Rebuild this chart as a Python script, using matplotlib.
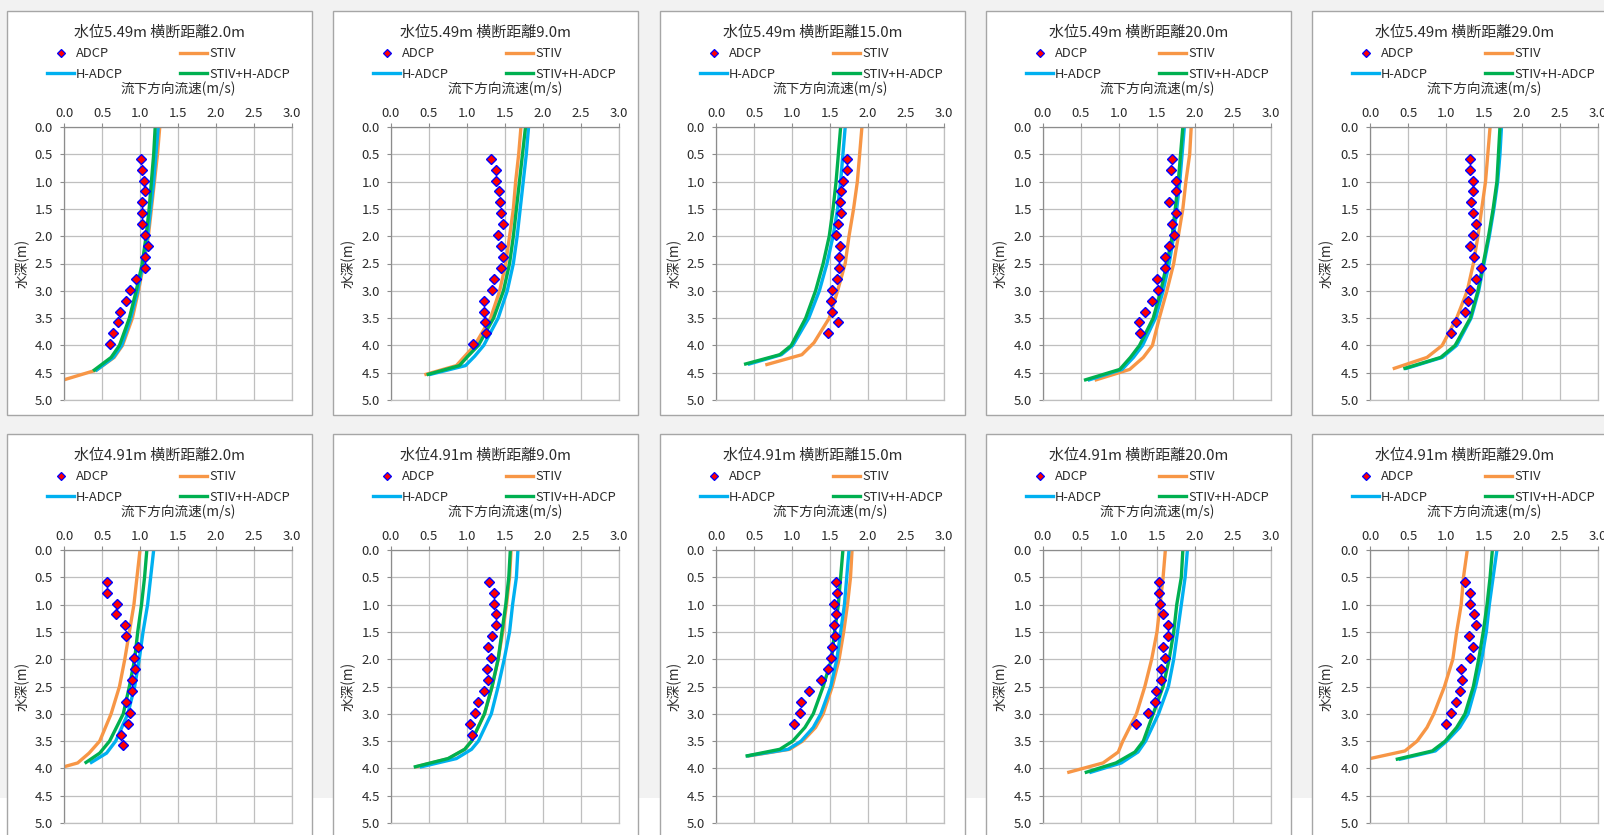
import matplotlib.pyplot as plt
from matplotlib.lines import Line2D
from matplotlib.patches import Rectangle
from matplotlib.ticker import FormatStrFormatter

plt.rcParams['font.family'] = ['Noto Sans CJK JP', 'DejaVu Sans']

# panel titles
levels = ['5.49', '5.49', '5.49', '5.49', '5.49', '4.91', '4.91', '4.91', '4.91', '4.91']
dists = ['2.0', '9.0', '15.0', '20.0', '29.0', '2.0', '9.0', '15.0', '20.0', '29.0']

# ADCP measured points (depth m, velocity m/s)
adcp_depth = [0.58, 0.78, 0.98, 1.18, 1.38, 1.58, 1.78, 1.98, 2.18, 2.38,
              2.58, 2.78, 2.98, 3.18, 3.38, 3.58, 3.78, 3.98]
adcp_vel = [
    [1.01, 1.02, 1.05, 1.06, 1.03, 1.02, 1.02, 1.06, 1.10, 1.06, 1.06, 0.95, 0.87, 0.82, 0.74, 0.71, 0.65, 0.60],
    [1.31, 1.38, 1.38, 1.42, 1.44, 1.45, 1.47, 1.41, 1.45, 1.47, 1.45, 1.35, 1.33, 1.22, 1.22, 1.24, 1.25, 1.08],
    [1.73, 1.73, 1.67, 1.64, 1.63, 1.65, 1.61, 1.58, 1.63, 1.62, 1.62, 1.59, 1.52, 1.51, 1.52, 1.60, 1.48],
    [1.70, 1.68, 1.75, 1.75, 1.66, 1.75, 1.70, 1.72, 1.66, 1.60, 1.61, 1.50, 1.51, 1.44, 1.34, 1.26, 1.27],
    [1.32, 1.32, 1.35, 1.35, 1.33, 1.35, 1.39, 1.35, 1.32, 1.37, 1.46, 1.40, 1.32, 1.29, 1.25, 1.13, 1.06],
    [0.56, 0.57, 0.70, 0.69, 0.80, 0.82, 0.98, 0.92, 0.94, 0.89, 0.89, 0.82, 0.87, 0.84, 0.75, 0.77],
    [1.29, 1.35, 1.35, 1.38, 1.38, 1.33, 1.27, 1.31, 1.26, 1.27, 1.22, 1.15, 1.10, 1.04, 1.06],
    [1.58, 1.59, 1.55, 1.58, 1.55, 1.56, 1.53, 1.51, 1.47, 1.38, 1.22, 1.12, 1.11, 1.02],
    [1.52, 1.53, 1.54, 1.58, 1.64, 1.64, 1.58, 1.61, 1.55, 1.55, 1.49, 1.47, 1.38, 1.23],
    [1.25, 1.31, 1.32, 1.37, 1.40, 1.30, 1.35, 1.31, 1.20, 1.21, 1.18, 1.13, 1.07, 1.00],
]

# STIV profiles
stiv_depth = [
    [0, 0.5, 1.0, 1.5, 2.0, 2.5, 3.0, 3.5, 4.0, 4.22, 4.45, 4.63],
    [0, 0.5, 1.0, 1.5, 2.0, 2.5, 3.0, 3.5, 4.0, 4.2, 4.37, 4.53],
    [0, 0.5, 1.0, 1.5, 2.0, 2.5, 3.0, 3.5, 3.95, 4.17, 4.35],
    [0, 0.5, 1.0, 1.5, 2.0, 2.5, 3.0, 3.5, 4.0, 4.22, 4.44, 4.63],
    [0, 0.5, 1.0, 1.5, 2.0, 2.5, 3.0, 3.5, 4.0, 4.22, 4.42],
    [0, 0.5, 1.0, 1.5, 2.0, 2.5, 3.0, 3.5, 3.72, 3.9, 3.97],
    [0, 0.5, 1.0, 1.5, 2.0, 2.5, 3.0, 3.5, 3.65, 3.82, 3.97],
    [0, 0.5, 1.0, 1.5, 2.0, 2.5, 3.0, 3.25, 3.5, 3.65, 3.77],
    [0, 0.5, 1.0, 1.5, 2.0, 2.5, 3.0, 3.5, 3.7, 3.9, 4.07],
    [0, 0.5, 1.0, 1.5, 2.0, 2.5, 3.0, 3.25, 3.5, 3.68, 3.82],
]
stiv_vel = [
    [1.26, 1.23, 1.19, 1.15, 1.11, 1.05, 0.98, 0.90, 0.77, 0.66, 0.43, 0.0],
    [1.71, 1.68, 1.64, 1.61, 1.56, 1.51, 1.43, 1.31, 1.10, 0.97, 0.86, 0.46],
    [1.92, 1.89, 1.86, 1.81, 1.75, 1.70, 1.60, 1.49, 1.29, 1.13, 0.67],
    [1.95, 1.93, 1.88, 1.84, 1.78, 1.72, 1.63, 1.53, 1.44, 1.32, 1.14, 0.70],
    [1.58, 1.55, 1.52, 1.47, 1.42, 1.36, 1.28, 1.14, 0.95, 0.75, 0.32],
    [1.00, 0.96, 0.92, 0.86, 0.80, 0.73, 0.62, 0.47, 0.33, 0.18, 0.0],
    [1.58, 1.56, 1.52, 1.47, 1.41, 1.33, 1.23, 1.06, 0.97, 0.76, 0.33],
    [1.79, 1.77, 1.73, 1.68, 1.62, 1.53, 1.41, 1.31, 1.14, 0.97, 0.44],
    [1.61, 1.58, 1.54, 1.50, 1.43, 1.34, 1.23, 1.05, 0.99, 0.79, 0.34],
    [1.28, 1.23, 1.20, 1.14, 1.09, 0.98, 0.84, 0.75, 0.62, 0.46, 0.0],
]

# H-ADCP and STIV+H-ADCP profiles share depths
hadcp_depth = [
    [0, 0.5, 1.0, 1.5, 2.0, 2.5, 3.0, 3.5, 4.0, 4.22, 4.45],
    [0, 0.5, 1.0, 1.5, 2.0, 2.5, 3.0, 3.5, 4.0, 4.2, 4.37, 4.53],
    [0, 0.5, 1.0, 1.5, 2.0, 2.5, 3.0, 3.5, 4.0, 4.17, 4.34],
    [0, 0.5, 1.0, 1.5, 2.0, 2.5, 3.0, 3.5, 4.0, 4.22, 4.44, 4.63],
    [0, 0.5, 1.0, 1.5, 2.0, 2.5, 3.0, 3.5, 4.0, 4.22, 4.42],
    [0, 0.5, 1.0, 1.5, 2.0, 2.5, 3.0, 3.5, 3.72, 3.89],
    [0, 0.5, 1.0, 1.5, 2.0, 2.5, 3.0, 3.5, 3.65, 3.82, 3.97],
    [0, 0.5, 1.0, 1.5, 2.0, 2.5, 3.0, 3.25, 3.5, 3.65, 3.77],
    [0, 0.5, 1.0, 1.5, 2.0, 2.5, 3.0, 3.5, 3.7, 3.9, 4.07],
    [0, 0.5, 1.0, 1.5, 2.0, 2.5, 3.0, 3.25, 3.5, 3.68, 3.83],
]
hadcp_vel = [
    [1.24, 1.21, 1.18, 1.14, 1.10, 1.04, 0.97, 0.88, 0.76, 0.65, 0.43],
    [1.81, 1.78, 1.74, 1.70, 1.66, 1.61, 1.53, 1.41, 1.22, 1.10, 0.98, 0.52],
    [1.70, 1.67, 1.64, 1.60, 1.54, 1.46, 1.36, 1.22, 1.01, 0.86, 0.44],
    [1.86, 1.83, 1.80, 1.76, 1.72, 1.66, 1.58, 1.48, 1.31, 1.19, 1.04, 0.61],
    [1.73, 1.71, 1.68, 1.63, 1.57, 1.50, 1.43, 1.33, 1.14, 0.95, 0.48],
    [1.18, 1.14, 1.10, 1.04, 0.99, 0.93, 0.84, 0.68, 0.56, 0.36],
    [1.67, 1.65, 1.60, 1.56, 1.49, 1.41, 1.32, 1.15, 1.06, 0.86, 0.40],
    [1.75, 1.72, 1.69, 1.64, 1.59, 1.51, 1.38, 1.28, 1.12, 0.95, 0.42],
    [1.90, 1.87, 1.82, 1.77, 1.72, 1.65, 1.52, 1.35, 1.25, 1.03, 0.63],
    [1.67, 1.62, 1.57, 1.53, 1.47, 1.39, 1.29, 1.18, 1.01, 0.86, 0.40],
]
mix_vel = [
    [1.20, 1.18, 1.15, 1.12, 1.08, 1.03, 0.95, 0.86, 0.73, 0.62, 0.40],
    [1.77, 1.73, 1.69, 1.65, 1.61, 1.56, 1.48, 1.35, 1.15, 1.01, 0.90, 0.49],
    [1.64, 1.61, 1.58, 1.54, 1.49, 1.41, 1.31, 1.18, 0.99, 0.84, 0.39],
    [1.84, 1.81, 1.78, 1.74, 1.70, 1.63, 1.55, 1.45, 1.27, 1.15, 1.01, 0.56],
    [1.71, 1.69, 1.67, 1.62, 1.56, 1.49, 1.42, 1.32, 1.12, 0.93, 0.46],
    [1.09, 1.06, 1.02, 0.97, 0.93, 0.86, 0.78, 0.60, 0.47, 0.29],
    [1.57, 1.55, 1.51, 1.46, 1.41, 1.33, 1.23, 1.06, 0.97, 0.75, 0.32],
    [1.67, 1.64, 1.61, 1.56, 1.52, 1.41, 1.28, 1.17, 1.01, 0.84, 0.41],
    [1.84, 1.82, 1.76, 1.72, 1.66, 1.58, 1.45, 1.32, 1.21, 0.96, 0.57],
    [1.61, 1.58, 1.54, 1.49, 1.43, 1.36, 1.25, 1.14, 0.99, 0.82, 0.36],
]

W, H = 1604, 835
c_stiv = '#f79646'
c_hadcp = '#00b0f0'
c_mix = '#00b050'
txt = '#2b2b2b'
border_left = [7, 333, 660, 986, 1312]
plot_left = [64, 391, 716, 1043, 1370]

fig = plt.figure(figsize=(W / 100, H / 100), dpi=100, facecolor='#f2f2f2')
fig.patches.append(Rectangle((0, 0), 1, (H - 798) / H, transform=fig.transFigure,
                             facecolor='white', edgecolor='none', zorder=-3))

for i in range(10):
    row, col = divmod(i, 5)
    top = 11 + 423 * row
    bl = border_left[col]
    fig.patches.append(Rectangle((bl / W, 1 - (top + 404) / H), 305 / W, 404 / H,
                                 transform=fig.transFigure, facecolor='white',
                                 edgecolor='#a6a6a6', lw=1, zorder=-2))

    pl = plot_left[col]
    ax = fig.add_axes([pl / W, 1 - (top + 116 + 273) / H, 228 / W, 273 / H])
    ax.plot(stiv_vel[i], stiv_depth[i], color=c_stiv, lw=2.4)
    ax.plot(hadcp_vel[i], hadcp_depth[i], color=c_hadcp, lw=2.4)
    ax.plot(mix_vel[i], hadcp_depth[i], color=c_mix, lw=2.4)
    ax.plot(adcp_vel[i], adcp_depth[:len(adcp_vel[i])], 'D', ms=5.5, mfc='#ff0000',
            mec='#0000ff', mew=1.0, zorder=5)

    ax.set_xlim(0, 3)
    ax.set_ylim(5, 0)
    ax.xaxis.tick_top()
    ax.set_xticks([0, 0.5, 1.0, 1.5, 2.0, 2.5, 3.0])
    ax.set_yticks([0, 0.5, 1.0, 1.5, 2.0, 2.5, 3.0, 3.5, 4.0, 4.5, 5.0])
    ax.xaxis.set_major_formatter(FormatStrFormatter('%.1f'))
    ax.yaxis.set_major_formatter(FormatStrFormatter('%.1f'))
    ax.tick_params(direction='out', length=3, width=0.8, color='#8c8c8c',
                   labelsize=9.5, labelcolor=txt)
    ax.tick_params(axis='x', pad=2)
    ax.tick_params(axis='y', pad=5)
    ax.grid(True, color='#bfbfbf', lw=0.9)
    for s in ['top', 'left']:
        ax.spines[s].set_color('#8c8c8c')
        ax.spines[s].set_linewidth(0.9)
    for s in ['bottom', 'right']:
        ax.spines[s].set_color('#bfbfbf')
        ax.spines[s].set_linewidth(0.9)

    fig.text((bl + 152.5) / W, 1 - (top + 22) / H, f'水位{levels[i]}m 横断距離{dists[i]}m',
             ha='center', va='center', fontsize=10.8, color=txt)
    fig.text((pl + 114) / W, 1 - (top + 78) / H, '流下方向流速(m/s)',
             ha='center', va='center', fontsize=9.8, color=txt)
    fig.text((bl + 15) / W, 1 - (top + 252) / H, '水深(m)', rotation=90,
             ha='center', va='center', fontsize=9.8, color=txt)

    h_adcp = Line2D([], [], ls='none', marker='D', ms=4.5, mfc='#ff0000', mec='#0000ff', mew=0.9)
    h_stiv = Line2D([], [], color=c_stiv, lw=2.4)
    h_hadcp = Line2D([], [], color=c_hadcp, lw=2.4)
    h_mix = Line2D([], [], color=c_mix, lw=2.4)
    for hs, labs, x0 in [([h_adcp, h_hadcp], ['ADCP', 'H-ADCP'], bl + 40),
                         ([h_stiv, h_mix], ['STIV', 'STIV+H-ADCP'], bl + 173)]:
        fig.legend(hs, labs, loc='center left', bbox_to_anchor=(x0 / W, 1 - (top + 53) / H),
                   frameon=False, fontsize=9.3, handlelength=2.1, handletextpad=0.15,
                   borderpad=0, borderaxespad=0, labelspacing=0.6, labelcolor=txt)

fig.savefig('out.png', dpi=100, facecolor=fig.get_facecolor())
